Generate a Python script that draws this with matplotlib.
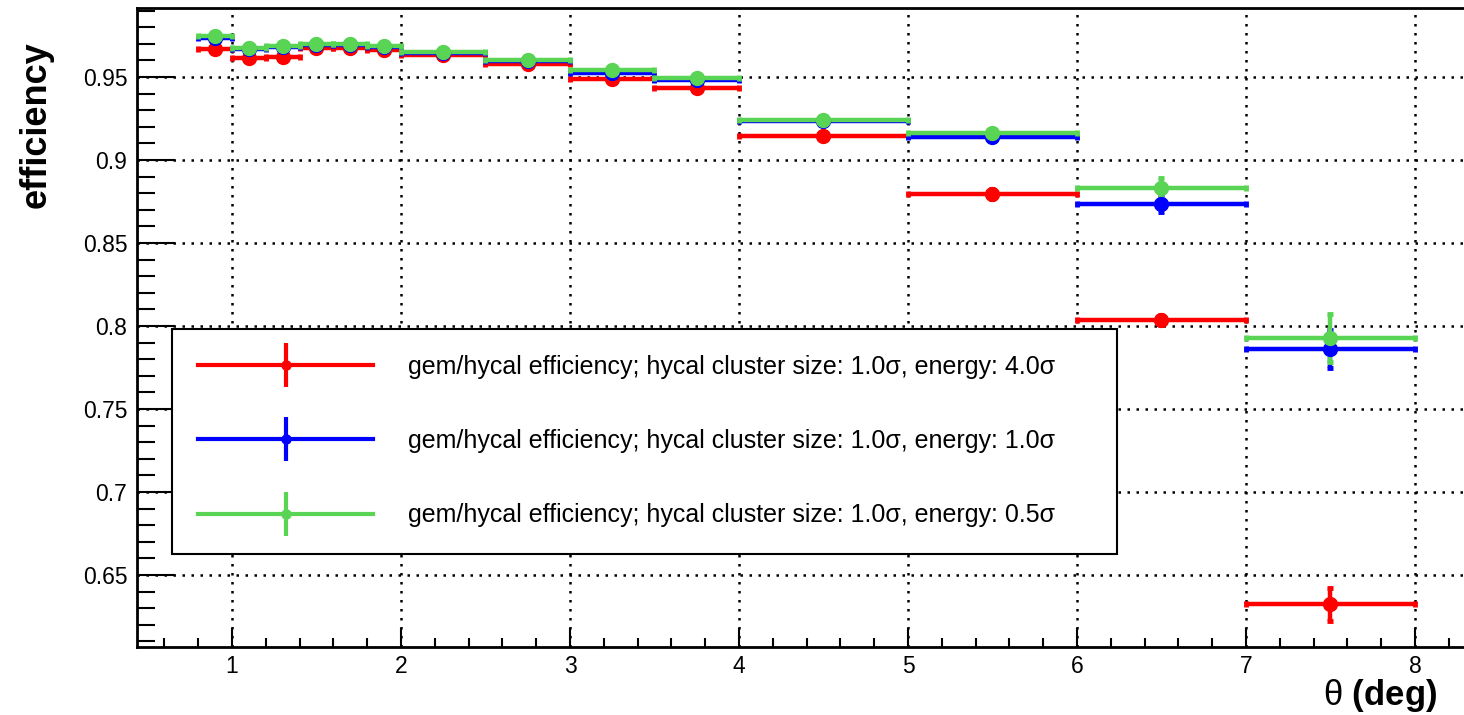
import numpy as np
import matplotlib
matplotlib.use('Agg')
import matplotlib.pyplot as plt
from matplotlib.lines import Line2D
from matplotlib.ticker import MultipleLocator, FuncFormatter

plt.rcParams['font.family'] = ['Liberation Sans', 'DejaVu Sans']
plt.rcParams['mathtext.fontset'] = 'custom'
plt.rcParams['mathtext.rm'] = 'Liberation Sans'

# theta bins (deg)
bin_lo = [0.8, 1.0, 1.2, 1.4, 1.6, 1.8, 2.0, 2.5, 3.0, 3.5, 4.0, 5.0, 6.0, 7.0]
bin_hi = [1.0, 1.2, 1.4, 1.6, 1.8, 2.0, 2.5, 3.0, 3.5, 4.0, 5.0, 6.0, 7.0, 8.0]

# energy cut 4.0 sigma
eff_e40 = [0.9671, 0.9612, 0.9622, 0.9672, 0.9678, 0.9662, 0.9630, 0.9580,
           0.9490, 0.9434, 0.9146, 0.8796, 0.8038, 0.6323]
err_e40 = [0.0015, 0.0012, 0.0012, 0.0012, 0.0012, 0.0012, 0.0010, 0.0012,
           0.0014, 0.0018, 0.0020, 0.0028, 0.0030, 0.0098]
# energy cut 1.0 sigma
eff_e10 = [0.9738, 0.9670, 0.9680, 0.9695, 0.9695, 0.9680, 0.9642, 0.9594,
           0.9522, 0.9482, 0.9234, 0.9136, 0.8737, 0.7863]
err_e10 = [0.0012, 0.0010, 0.0010, 0.0010, 0.0010, 0.0010, 0.0009, 0.0010,
           0.0012, 0.0015, 0.0017, 0.0022, 0.0048, 0.0115]
# energy cut 0.5 sigma
eff_e05 = [0.9750, 0.9675, 0.9685, 0.9700, 0.9700, 0.9685, 0.9648, 0.9600,
           0.9544, 0.9494, 0.9240, 0.9164, 0.8833, 0.7928]
err_e05 = [0.0012, 0.0010, 0.0010, 0.0010, 0.0010, 0.0010, 0.0009, 0.0010,
           0.0012, 0.0015, 0.0017, 0.0022, 0.0060, 0.0144]

labels = ['gem/hycal efficiency; hycal cluster size: 1.0\u03c3, energy: 4.0\u03c3',
          'gem/hycal efficiency; hycal cluster size: 1.0\u03c3, energy: 1.0\u03c3',
          'gem/hycal efficiency; hycal cluster size: 1.0\u03c3, energy: 0.5\u03c3']
colors = ['#ff0000', '#0000ff', '#59d454']

W, H = 1464, 715
fig = plt.figure(figsize=(W / 100, H / 100), dpi=100)
ax = fig.add_axes([137 / W, 68 / H, (1470 - 137) / W, (647 - 8) / H])

lo = np.array(bin_lo)
hi = np.array(bin_hi)
xc = 0.5 * (lo + hi)

handles = []
for eff, err, c in zip([eff_e40, eff_e10, eff_e05], [err_e40, err_e10, err_e05], colors):
    ax.errorbar(xc, eff, xerr=[xc - lo, hi - xc], yerr=err, fmt='o', color=c,
                ms=10, elinewidth=3.2, capsize=2.3, capthick=3.5, zorder=3)
    handles.append((Line2D([], [], color=c, lw=3, marker='o', ms=6.5),
                    Line2D([], [], color=c, marker='|', ms=31, mew=3, ls='none')))

ax.set_xlim(0.438, 0.438 + 1333 / 169)
ax.set_ylim(0.6066, 0.9916)

ax.xaxis.set_major_locator(MultipleLocator(1))
ax.xaxis.set_minor_locator(MultipleLocator(0.2))
ax.yaxis.set_major_locator(MultipleLocator(0.05))
ax.yaxis.set_minor_locator(MultipleLocator(0.01))
ax.yaxis.set_major_formatter(FuncFormatter(lambda v, p: f'{round(v, 3):g}'))
ax.xaxis.set_major_formatter(FuncFormatter(lambda v, p: f'{v:g}'))

ax.tick_params(which='both', direction='in', top=False, right=False, width=1.5)
ax.tick_params(axis='y', which='major', length=27, labelsize=16.5, pad=7)
ax.tick_params(axis='y', which='minor', length=13)
ax.tick_params(axis='x', which='major', length=13.7, labelsize=16.5, pad=6)
ax.tick_params(axis='x', which='minor', length=6.8)
for s in ax.spines.values():
    s.set_linewidth(2)

ax.set_axisbelow(True)
ax.grid(True, which='major', color='black', linestyle=(0, (1, 2.6)), linewidth=1.8)

leg = ax.legend(handles, labels, loc='upper left',
                bbox_to_anchor=(172 / W, (715 - 552) / H, (1117 - 172) / W, (552 - 329) / H),
                bbox_transform=fig.transFigure, mode='expand', borderaxespad=0,
                fontsize=18, numpoints=1, handlelength=7.0, handletextpad=1.4,
                labelspacing=2.0, borderpad=1.05, fancybox=False, framealpha=1,
                edgecolor='black')
leg.get_frame().set_linewidth(1.5)

fig.text(36 / W, 1 - 125 / H, 'efficiency', rotation=90, fontsize=26,
         fontweight='bold', ha='center', va='center')
fig.text(1437 / W, 1 - 705 / H, r'$\mathrm{\theta}$ (deg)', fontsize=25,
         fontweight='bold', ha='right', va='baseline')

fig.savefig('out.png', dpi=100)
